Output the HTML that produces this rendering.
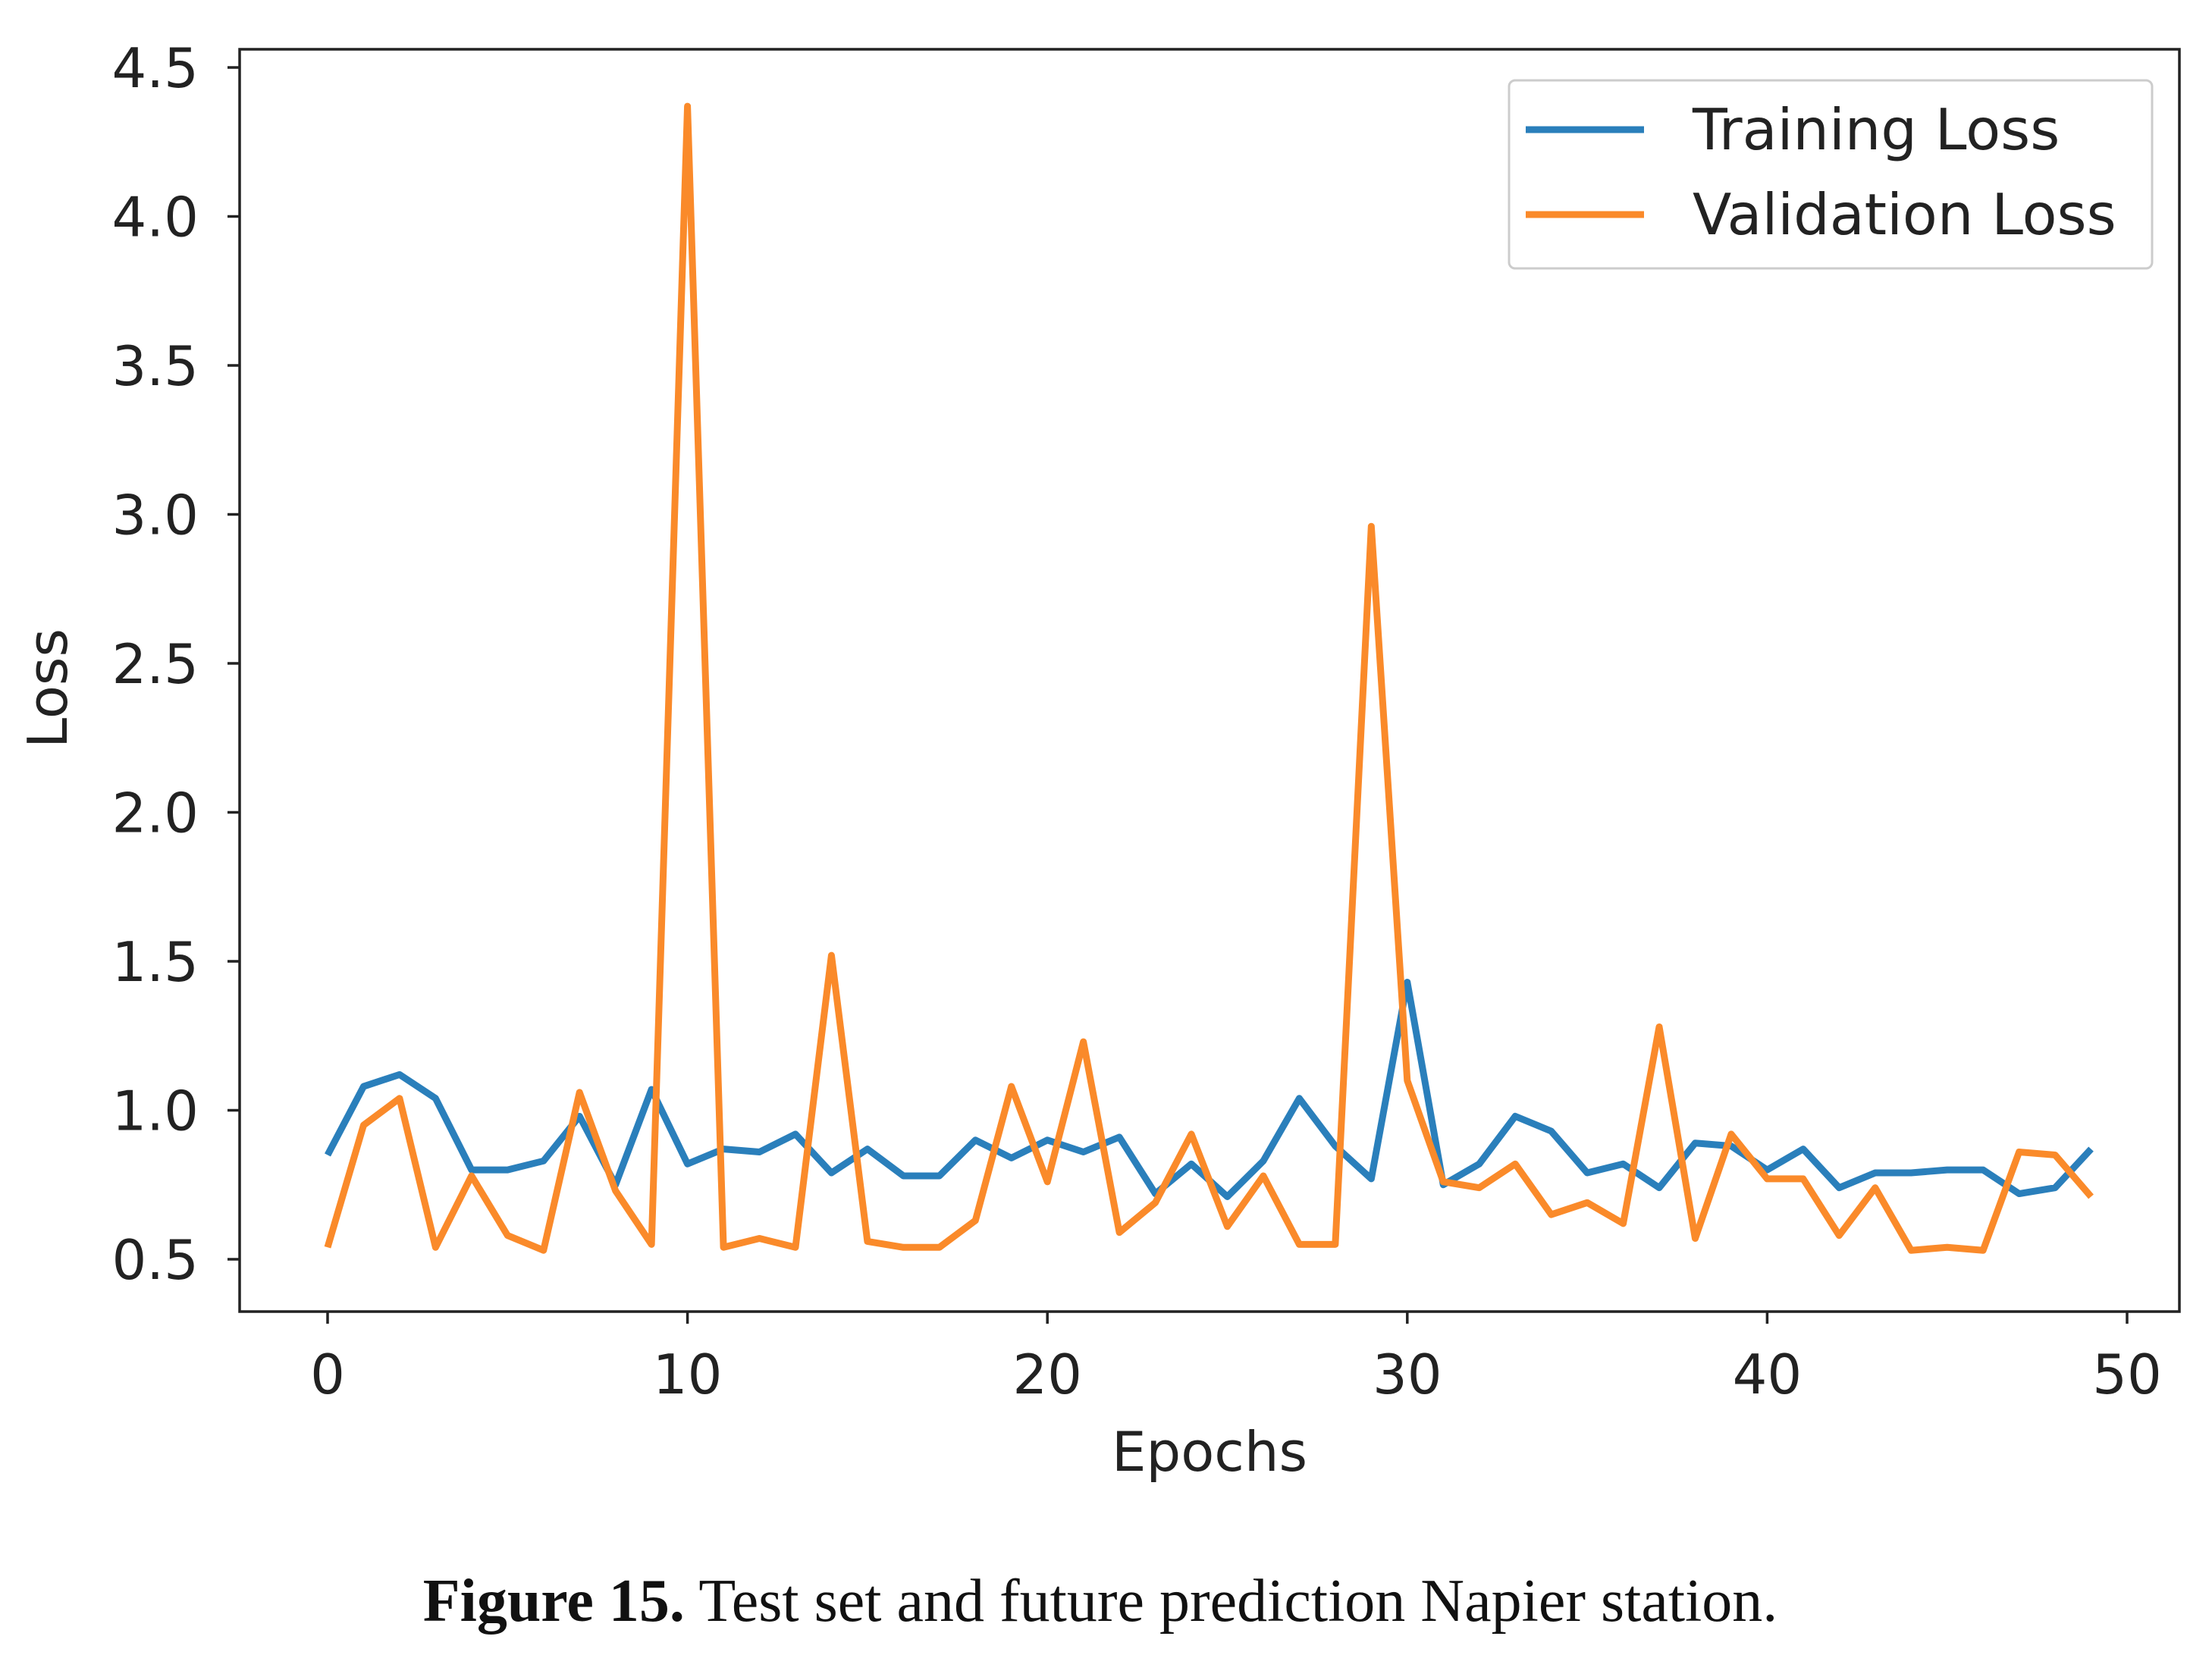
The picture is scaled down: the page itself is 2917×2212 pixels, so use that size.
<!DOCTYPE html>
<html><head><meta charset="utf-8"><style>
body{margin:0;background:#fff;}
svg{display:block;}
</style></head><body>
<svg id="chart" width="2917" height="2212" xmlns="http://www.w3.org/2000/svg" font-family="'DejaVu Sans', sans-serif">
<rect x="0" y="0" width="2917" height="2212" fill="#fff"/>
<g id="series"></g>
<rect x="316" y="65" width="2558" height="1665" fill="none" stroke="#222" stroke-width="3.5"/>
<g id="axes"></g>
<text x="1595" y="1940" font-size="72" text-anchor="middle" fill="#222">Epochs</text>
<text x="88" y="908" font-size="72" text-anchor="middle" fill="#222" transform="rotate(-90 88 908)">Loss</text>
<g>
<rect x="1990" y="106" width="848" height="248" rx="8" fill="#fff" stroke="#ccc" stroke-width="3"/>
<line x1="2012" y1="171" x2="2168" y2="171" stroke="#2a7fbb" stroke-width="9"/>
<text x="2232" y="197" font-size="75" fill="#222">Training Loss</text>
<line x1="2012" y1="283" x2="2168" y2="283" stroke="#fa8a2a" stroke-width="9"/>
<text x="2232" y="309" font-size="75" fill="#222">Validation Loss</text>
</g>
<text x="1451" y="2138" font-size="80" text-anchor="middle" font-family="'Liberation Serif', serif" fill="#111"><tspan font-weight="bold">Figure 15.</tspan> Test set and future prediction Napier station.</text>
</svg>
<script>
const epochs = Array.from({length:50},(_,i)=>i);
const trainingLoss = [0.85,1.08,1.12,1.04,0.80,0.80,0.83,0.98,0.75,1.07,0.82,0.87,0.86,0.92,0.79,0.87,0.78,0.78,0.90,0.84,0.90,0.86,0.91,0.72,0.82,0.71,0.83,1.04,0.88,0.77,1.43,0.75,0.82,0.98,0.93,0.79,0.82,0.74,0.89,0.88,0.80,0.87,0.74,0.79,0.79,0.80,0.80,0.72,0.74,0.87];
const validationLoss = [0.54,0.95,1.04,0.54,0.78,0.58,0.53,1.06,0.73,0.55,4.37,0.54,0.57,0.54,1.52,0.56,0.54,0.54,0.63,1.08,0.76,1.23,0.59,0.69,0.92,0.61,0.78,0.55,0.55,2.96,1.10,0.76,0.74,0.82,0.65,0.69,0.62,1.28,0.57,0.92,0.77,0.77,0.58,0.74,0.53,0.54,0.53,0.86,0.85,0.71];
const xTicks = [0,10,20,30,40,50];
const yTicks = [0.5,1.0,1.5,2.0,2.5,3.0,3.5,4.0,4.5];
const yTickLabels = ["0.5","1.0","1.5","2.0","2.5","3.0","3.5","4.0","4.5"];

const NS="http://www.w3.org/2000/svg";
const xs = v => 432 + (v-0)*(2805-432)/50;
const ys = v => 1661 - (v-0.5)*(1661-89)/4;
const axes=document.getElementById('axes'), ser=document.getElementById('series');
function mk(tag,attrs,parent){const e=document.createElementNS(NS,tag);for(const k in attrs)e.setAttribute(k,attrs[k]);parent.appendChild(e);return e;}
xTicks.forEach(t=>{
  const l=mk('line',{x1:xs(t),x2:xs(t),y1:1730,y2:1746,stroke:'#222','stroke-width':3.5},axes);
  
  
  const tx=mk('text',{x:xs(t),y:1838,'font-size':72,'text-anchor':'middle',fill:'#222'},axes);
  tx.textContent=t;
  
  
});
yTicks.forEach((t,i)=>{
  const l=mk('line',{x1:300,x2:316,y1:ys(t),y2:ys(t),stroke:'#222','stroke-width':3.5},axes);
  
  
  const tx=mk('text',{x:262,y:ys(t)+26,'font-size':72,'text-anchor':'end',fill:'#222'},axes);
  tx.textContent=yTickLabels[i];
  
  
});
function line(data,color,name){
  const p=mk('polyline',{points:data.map((v,i)=>xs(epochs[i])+','+ys(v)).join(' '),fill:'none',stroke:color,'stroke-width':9,'stroke-linejoin':'round'},ser);
  
  
}
line(trainingLoss,'#2a7fbb','training-loss-line');
line(validationLoss,'#fa8a2a','validation-loss-line');
</script>
</body></html>
